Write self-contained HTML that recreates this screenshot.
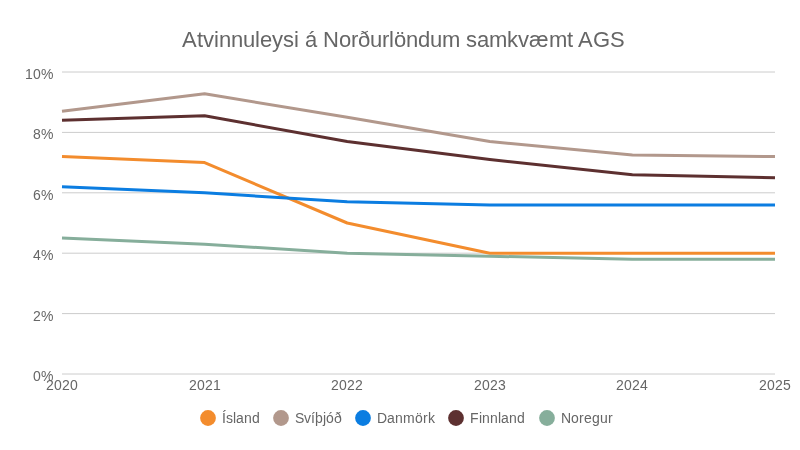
<!DOCTYPE html>
<html lang="is"><head><meta charset="utf-8"><title>Atvinnuleysi á Norðurlöndum samkvæmt AGS</title>
<style>
html,body{margin:0;padding:0;background:#fff;}
body{width:800px;height:450px;overflow:hidden;}
svg{display:block;font-family:"Liberation Sans",Arial,sans-serif;font-kerning:none;}
</style></head><body>
<svg width="800" height="450" viewBox="0 0 800 450">
<rect width="800" height="450" fill="#ffffff"/>
<text x="182 197 203 214 219 231 243 255 260 272 283 294 299 305 317 323 339 351 358 370 382 389 394 406 418 430 442 460 466 477 489 507 518 529 549 567 573 578 593 610" y="47" font-size="22" fill="#666666">Atvinnuleysi á Norðurlöndum samkvæmt AGS</text>
<line x1="62" x2="775" y1="374" y2="374" stroke="#cccccc" stroke-width="1"/>
<text x="33 41" y="381" font-size="14" fill="#666666">0%</text>
<line x1="62" x2="775" y1="313.6" y2="313.6" stroke="#cccccc" stroke-width="1"/>
<text x="33 41" y="321" font-size="14" fill="#666666">2%</text>
<line x1="62" x2="775" y1="253.2" y2="253.2" stroke="#cccccc" stroke-width="1"/>
<text x="33 41" y="260" font-size="14" fill="#666666">4%</text>
<line x1="62" x2="775" y1="192.8" y2="192.8" stroke="#cccccc" stroke-width="1"/>
<text x="33 41" y="200" font-size="14" fill="#666666">6%</text>
<line x1="62" x2="775" y1="132.4" y2="132.4" stroke="#cccccc" stroke-width="1"/>
<text x="33 41" y="139" font-size="14" fill="#666666">8%</text>
<line x1="62" x2="775" y1="72" y2="72" stroke="#cccccc" stroke-width="1"/>
<text x="25 33 41" y="79" font-size="14" fill="#666666">10%</text>
<text x="46 54 62 70" y="390" font-size="14" fill="#666666">2020</text>
<text x="189 197 205 213" y="390" font-size="14" fill="#666666">2021</text>
<text x="331 339 347 355" y="390" font-size="14" fill="#666666">2022</text>
<text x="474 482 490 498" y="390" font-size="14" fill="#666666">2023</text>
<text x="616 624 632 640" y="390" font-size="14" fill="#666666">2024</text>
<text x="759 767 775 783" y="390" font-size="14" fill="#666666">2025</text>
<polyline points="62,156.56 204.6,162.6 347.2,223 489.8,253.2 632.4,253.2 775,253.2" fill="none" stroke="#f38c2d" stroke-width="3" stroke-linejoin="round"/>
<polyline points="62,111.26 204.6,93.74 347.2,117.3 489.8,141.46 632.4,155.05 775,156.56" fill="none" stroke="#b2988c" stroke-width="3" stroke-linejoin="round"/>
<polyline points="62,186.76 204.6,192.8 347.2,201.86 489.8,204.88 632.4,204.88 775,204.88" fill="none" stroke="#0b7de1" stroke-width="3" stroke-linejoin="round"/>
<polyline points="62,120.32 204.6,115.79 347.2,141.46 489.8,159.58 632.4,174.68 775,177.7" fill="none" stroke="#5d3030" stroke-width="3" stroke-linejoin="round"/>
<polyline points="62,238.1 204.6,244.14 347.2,253.2 489.8,256.22 632.4,259.24 775,259.24" fill="none" stroke="#86ae9b" stroke-width="3" stroke-linejoin="round"/>
<circle cx="208" cy="418" r="7.9" fill="#f38c2d"/>
<text x="222 226 233 236 244 252" y="423" font-size="14" fill="#666666">Ísland</text>
<circle cx="281" cy="418" r="7.9" fill="#b2988c"/>
<text x="295 304 311 315 323 326 334" y="423" font-size="14" fill="#666666">Svíþjóð</text>
<circle cx="363" cy="418" r="7.9" fill="#0b7de1"/>
<text x="377 387 395 403 415 423 428" y="423" font-size="14" fill="#666666">Danmörk</text>
<circle cx="456" cy="418" r="7.9" fill="#5d3030"/>
<text x="470 479 482 490 498 501 509 517" y="423" font-size="14" fill="#666666">Finnland</text>
<circle cx="547" cy="418" r="7.9" fill="#86ae9b"/>
<text x="561 571 579 584 592 600 608" y="423" font-size="14" fill="#666666">Noregur</text>
</svg></body></html>
